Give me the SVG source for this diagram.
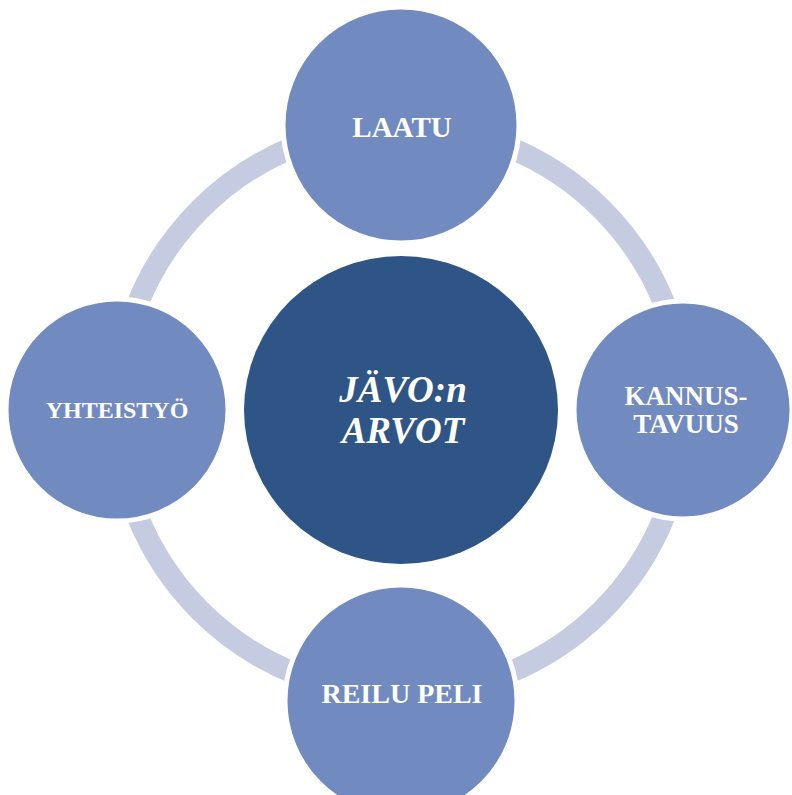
<svg xmlns="http://www.w3.org/2000/svg" width="792" height="795" viewBox="0 0 792 795">
<style>
.sat{fill:#718ac0;stroke:#ffffff;stroke-width:5}
.lbl{font-family:"Liberation Serif","Times New Roman",serif;font-weight:bold;fill:#ffffff;text-anchor:middle}
.ctr{font-family:"Liberation Serif","Times New Roman",serif;font-style:italic;font-weight:bold;fill:#ffffff;text-anchor:middle}
</style>
<rect width="792" height="795" fill="#ffffff"/>
<g id="connectors">
<circle cx="401" cy="410" r="284" fill="none" stroke="#c5cbe0" stroke-width="22"/>
</g>
<g id="node-center">
<ellipse cx="401" cy="410" rx="157" ry="154" fill="#2e5585"/>
<text class="ctr" x="403" y="402" font-size="37">JÄVO:n</text>
<text class="ctr" x="403" y="443" font-size="37">ARVOT</text>
</g>
<g id="node-laatu">
<circle class="sat" cx="401" cy="125" r="118"/>
<text class="lbl" x="402" y="137" font-size="29">LAATU</text>
</g>
<g id="node-kannustavuus">
<circle class="sat" cx="683" cy="410" r="109"/>
<text class="lbl" x="686" y="405" font-size="27">KANNUS-</text>
<text class="lbl" x="686" y="433" font-size="27">TAVUUS</text>
</g>
<g id="node-reilupeli">
<circle class="sat" cx="401" cy="701" r="116"/>
<text class="lbl" x="402" y="703" font-size="28">REILU PELI</text>
</g>
<g id="node-yhteistyo">
<circle class="sat" cx="117" cy="410" r="111"/>
<text class="lbl" x="117" y="418" font-size="24">YHTEISTYÖ</text>
</g>
</svg>
